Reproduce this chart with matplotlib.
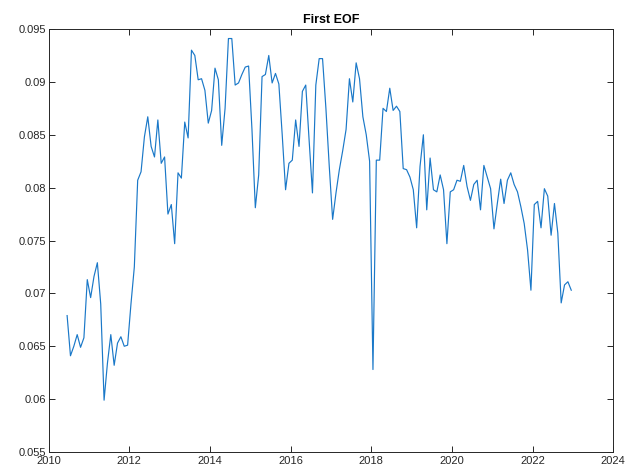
import matplotlib
matplotlib.use("Agg")
import matplotlib.pyplot as plt
import numpy as np
from matplotlib.ticker import FuncFormatter

# monthly values, first point mid 2010
start_year = 2010 + 5.5 / 12
eof1 = [
    0.0679, 0.0641, 0.0650, 0.0661, 0.0649, 0.0658,                          # 2010
    0.0713, 0.0696, 0.0716, 0.0729, 0.0690, 0.0599, 0.0634, 0.0661,
    0.0632, 0.0653, 0.0659, 0.0650,                                          # 2011
    0.0651, 0.0690, 0.0725, 0.0807, 0.0815, 0.0848, 0.0867, 0.0839,
    0.0829, 0.0864, 0.0823, 0.0829,                                          # 2012
    0.0775, 0.0784, 0.0747, 0.0814, 0.0809, 0.0862, 0.0847, 0.0930,
    0.0925, 0.0902, 0.0903, 0.0892,                                          # 2013
    0.0861, 0.0873, 0.0913, 0.0902, 0.0840, 0.0875, 0.0941, 0.0941,
    0.0897, 0.0899, 0.0907, 0.0914,                                          # 2014
    0.0915, 0.0855, 0.0781, 0.0812, 0.0905, 0.0907, 0.0925, 0.0899,
    0.0908, 0.0898, 0.0850, 0.0798,                                          # 2015
    0.0823, 0.0826, 0.0864, 0.0839, 0.0891, 0.0897, 0.0845, 0.0795,
    0.0897, 0.0922, 0.0922, 0.0875,                                          # 2016
    0.0820, 0.0770, 0.0795, 0.0817, 0.0835, 0.0855, 0.0903, 0.0881,
    0.0918, 0.0903, 0.0867, 0.0850,                                          # 2017
    0.0825, 0.0628, 0.0826, 0.0826, 0.0875, 0.0872, 0.0894, 0.0873,
    0.0877, 0.0872, 0.0818, 0.0817,                                          # 2018
    0.0810, 0.0798, 0.0762, 0.0820, 0.0850, 0.0779, 0.0828, 0.0798,
    0.0796, 0.0812, 0.0798, 0.0747,                                          # 2019
    0.0796, 0.0798, 0.0807, 0.0806, 0.0821, 0.0801, 0.0788, 0.0803,
    0.0807, 0.0779, 0.0821, 0.0810,                                          # 2020
    0.0799, 0.0761, 0.0785, 0.0808, 0.0785, 0.0807, 0.0814, 0.0803,
    0.0796, 0.0782, 0.0766, 0.0741,                                          # 2021
    0.0703, 0.0784, 0.0787, 0.0762, 0.0799, 0.0792, 0.0755, 0.0785,
    0.0757, 0.0691, 0.0708, 0.0711,                                          # 2022
    0.0703,
]
years = start_year + np.arange(len(eof1)) / 12.0

xticks = list(range(2010, 2025, 2))
yticks = [0.055, 0.06, 0.065, 0.07, 0.075, 0.08, 0.085, 0.09, 0.095]

plt.rcParams['font.family'] = ['Liberation Sans', 'DejaVu Sans']

fig = plt.figure(figsize=(6.29, 4.68), dpi=100)
ax = fig.add_axes([0.0773, 0.0342, 0.8977, 0.9038])
ax.plot(years, eof1, color='#1a78c8', linewidth=0.85)

ax.set_xlim(2010, 2024)
ax.set_ylim(0.055, 0.095)
ax.set_xticks(xticks)
ax.set_yticks(yticks)
ax.yaxis.set_major_formatter(FuncFormatter(lambda v, p: '%g' % round(v, 3)))
ax.tick_params(direction='in', top=True, right=True, length=4, width=0.7,
               labelsize=8, colors='#262626')
ax.tick_params(axis='x', pad=3)
ax.tick_params(axis='y', pad=2)
for s in ax.spines.values():
    s.set_color('#262626')
    s.set_linewidth(0.7)
ax.set_title('First EOF', fontsize=9, fontweight='bold', color='#000000', pad=4)

fig.savefig('out.png', dpi=100)
